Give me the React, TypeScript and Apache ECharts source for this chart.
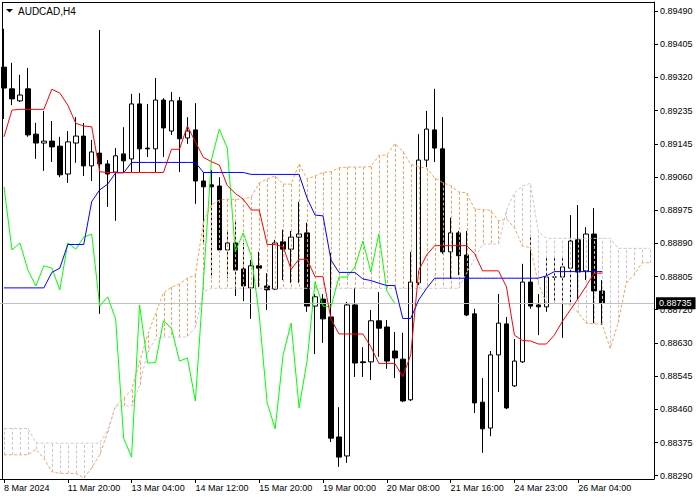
import React, { useEffect, useRef } from "react";
import * as echarts from "echarts";

// ---------- data ----------
const xLabels = [
  "8 Mar 2024", "11 Mar 20:00", "13 Mar 04:00", "14 Mar 12:00", "15 Mar 20:00",
  "19 Mar 00:00", "20 Mar 08:00", "21 Mar 16:00", "24 Mar 23:00", "26 Mar 04:00",
];

const yLabels = [
  "0.88290", "0.88375", "0.88460", "0.88545", "0.88630", "0.88720", "0.88805", "0.88890",
  "0.88975", "0.89060", "0.89145", "0.89235", "0.89320", "0.89405", "0.89490",
];

const opens = [
  0.89345, 0.89289, 0.89258, 0.89289, 0.89172, 0.89149, 0.89154, 0.89141, 0.89069, 0.89149,
  0.89167, 0.89090, 0.89123, 0.89095, 0.89074, 0.89121, 0.89108, 0.89250, 0.89136, 0.89134,
  0.89260, 0.89180, 0.89258, 0.89162, 0.89183, 0.89051, 0.89041, 0.89038, 0.88873, 0.88891,
  0.88824, 0.88775, 0.88832, 0.88780, 0.88772, 0.88894, 0.88875, 0.88906, 0.88917, 0.88728,
  0.88746, 0.88700, 0.88390, 0.88341, 0.88731, 0.88584, 0.88584, 0.88690, 0.88674, 0.88612,
  0.88591, 0.88486, 0.88788, 0.89105, 0.89183, 0.89134, 0.88868, 0.88917, 0.88860, 0.88708,
  0.88480, 0.88413, 0.88602, 0.88682, 0.88522, 0.88584, 0.88790, 0.88731, 0.88726, 0.88803,
  0.88803, 0.88826, 0.88899, 0.88819, 0.88914, 0.88767,
];
const closes = [
  0.89291, 0.89263, 0.89273, 0.89170, 0.89149, 0.89154, 0.89139, 0.89067, 0.89152, 0.89167,
  0.89090, 0.89126, 0.89095, 0.89069, 0.89116, 0.89103, 0.89250, 0.89134, 0.89134, 0.89260,
  0.89188, 0.89258, 0.89160, 0.89180, 0.89051, 0.89036, 0.89036, 0.88873, 0.88891, 0.88821,
  0.88780, 0.88832, 0.88826, 0.88770, 0.88891, 0.88875, 0.88906, 0.88914, 0.88728, 0.88752,
  0.88695, 0.88387, 0.88338, 0.88731, 0.88581, 0.88582, 0.88690, 0.88671, 0.88586, 0.88594,
  0.88483, 0.88790, 0.89105, 0.89185, 0.89136, 0.88868, 0.88917, 0.88858, 0.88705, 0.88478,
  0.88411, 0.88602, 0.88684, 0.88465, 0.88586, 0.88790, 0.88728, 0.88726, 0.88803, 0.88803,
  0.88829, 0.88896, 0.88816, 0.88914, 0.88767, 0.88735,
];
const lows = [
  0.89211, 0.89247, 0.89255, 0.89165, 0.89108, 0.89077, 0.89100, 0.89061, 0.89046, 0.89098,
  0.89064, 0.89051, 0.88708, 0.88984, 0.88948, 0.89074, 0.89074, 0.89074, 0.89113, 0.89074,
  0.89113, 0.89170, 0.89074, 0.89147, 0.88992, 0.88894, 0.88800, 0.88868, 0.88800, 0.88754,
  0.88741, 0.88695, 0.88777, 0.88718, 0.88770, 0.88795, 0.88788, 0.88788, 0.88713, 0.88604,
  0.88633, 0.88377, 0.88313, 0.88323, 0.88545, 0.88545, 0.88537, 0.88597, 0.88566, 0.88542,
  0.88480, 0.88483, 0.88782, 0.89087, 0.89100, 0.88863, 0.88798, 0.88808, 0.88702, 0.88452,
  0.88349, 0.88392, 0.88506, 0.88462, 0.88519, 0.88581, 0.88721, 0.88653, 0.88713, 0.88736,
  0.88646, 0.88736, 0.88744, 0.88795, 0.88684, 0.88679,
];
const highs = [
  0.89444, 0.89356, 0.89325, 0.89343, 0.89201, 0.89232, 0.89206, 0.89165, 0.89180, 0.89216,
  0.89201, 0.89157, 0.89441, 0.89105, 0.89136, 0.89190, 0.89276, 0.89278, 0.89250, 0.89317,
  0.89265, 0.89281, 0.89268, 0.89216, 0.89252, 0.89074, 0.89079, 0.89061, 0.88919, 0.88945,
  0.88891, 0.88847, 0.88868, 0.88813, 0.88899, 0.88925, 0.88922, 0.88997, 0.88943, 0.88759,
  0.88759, 0.88865, 0.88467, 0.88739, 0.88775, 0.88622, 0.88718, 0.88764, 0.88692, 0.88661,
  0.88659, 0.88868, 0.89172, 0.89232, 0.89289, 0.89216, 0.88956, 0.88922, 0.88922, 0.88721,
  0.88542, 0.88612, 0.88759, 0.88700, 0.88643, 0.88837, 0.88912, 0.88759, 0.88857, 0.88857,
  0.88857, 0.88963, 0.88989, 0.88932, 0.88981, 0.88795,
];

const tenkan = [
  0.89165, 0.89234, 0.89236, 0.89236, 0.89236, 0.89236, 0.89288, 0.89278, 0.89247, 0.89200,
  0.89193, 0.89191, 0.89075, 0.89073, 0.89073, 0.89073, 0.89073, 0.89073, 0.89073, 0.89073,
  0.89073, 0.89133, 0.89133, 0.89193, 0.89152, 0.89112, 0.89101, 0.89092, 0.89039, 0.89019,
  0.89004, 0.88976, 0.88976, 0.88887, 0.88887, 0.88881, 0.88823, 0.88849, 0.88849, 0.88804,
  0.88804, 0.88695, 0.88656, 0.88656, 0.88656, 0.88656, 0.88623, 0.88580, 0.88580, 0.88580,
  0.88546, 0.88602, 0.88820, 0.88860, 0.88884, 0.88884, 0.88884, 0.88884, 0.88884, 0.88864,
  0.88819, 0.88819, 0.88819, 0.88778, 0.88653, 0.88639, 0.88638, 0.88630, 0.88630, 0.88653,
  0.88688, 0.88718, 0.88748, 0.88780, 0.88813, 0.88813,
];

const kijun = [
  0.88775, 0.88775, 0.88775, 0.88775, 0.88775, 0.88775, 0.88815, 0.88826, 0.88887, 0.88887,
  0.88887, 0.88998, 0.89028, 0.89043, 0.89072, 0.89072, 0.89099, 0.89099, 0.89099, 0.89099,
  0.89099, 0.89099, 0.89099, 0.89099, 0.89099, 0.89073, 0.89073, 0.89073, 0.89073, 0.89073,
  0.89073, 0.89068, 0.89068, 0.89068, 0.89068, 0.89068, 0.89068, 0.89068, 0.89007, 0.88963,
  0.88961, 0.88847, 0.88815, 0.88815, 0.88815, 0.88798, 0.88794, 0.88787, 0.88781, 0.88781,
  0.88696, 0.88696, 0.88744, 0.88774, 0.88800, 0.88800, 0.88800, 0.88800, 0.88800, 0.88800,
  0.88800, 0.88800, 0.88800, 0.88800, 0.88800, 0.88800, 0.88800, 0.88800, 0.88806, 0.88817,
  0.88817, 0.88817, 0.88817, 0.88817, 0.88817, 0.88817,
];

const senkouA = [
  0.88344, 0.88344, 0.88344, 0.88344, 0.88358, 0.88335, 0.88300, 0.88296, 0.88296, 0.88296,
  0.88284, 0.88310, 0.88344, 0.88403, 0.88470, 0.88491, 0.88511, 0.88584, 0.88653, 0.88708,
  0.88762, 0.88777, 0.88785, 0.88800, 0.88808, 0.88945, 0.88989, 0.89002, 0.89004, 0.89004,
  0.89004, 0.89010, 0.89046, 0.89056, 0.89064, 0.89043, 0.89043, 0.89095, 0.89056, 0.89064,
  0.89073, 0.89075, 0.89085, 0.89087, 0.89087, 0.89087, 0.89088, 0.89117, 0.89118, 0.89147,
  0.89128, 0.89094, 0.89088, 0.89084, 0.89059, 0.89047, 0.89039, 0.89023, 0.89020, 0.88979,
  0.88977, 0.88975, 0.88948, 0.88953, 0.88930, 0.88883, 0.88879, 0.88787, 0.88735, 0.88735,
  0.88735, 0.88731, 0.88711, 0.88684, 0.88682, 0.88682, 0.88619, 0.88684, 0.88787, 0.88808,
  0.88840, 0.88840,
];

const senkouB = [
  0.88412, 0.88412, 0.88412, 0.88412, 0.88375, 0.88374, 0.88374, 0.88374, 0.88374, 0.88374,
  0.88374, 0.88374, 0.88374, 0.88408, 0.88470, 0.88470, 0.88470, 0.88524, 0.88609, 0.88643,
  0.88648, 0.88648, 0.88648, 0.88648, 0.88674, 0.88764, 0.88774, 0.88774, 0.88774, 0.88774,
  0.88774, 0.88774, 0.88774, 0.88774, 0.88774, 0.88774, 0.88774, 0.88774, 0.88774, 0.88774,
  0.88774, 0.88774, 0.88774, 0.88774, 0.88774, 0.88774, 0.88774, 0.88774, 0.88774, 0.88774,
  0.88774, 0.88774, 0.88774, 0.88774, 0.88774, 0.88774, 0.88774, 0.88774, 0.88813, 0.88850,
  0.88888, 0.88888, 0.88888, 0.88976, 0.89020, 0.89038, 0.89045, 0.88919, 0.88903, 0.88903,
  0.88903, 0.88903, 0.88903, 0.88903, 0.88903, 0.88903, 0.88903, 0.88877, 0.88877, 0.88877,
  0.88877, 0.88877,
];

const bidPrice = 0.88735;
const symbolTitle = "AUDCAD,H4";

// Chikou span = closes plotted 26 bars back (Ichimoku definition)
const chikou = closes.slice(26);

// ---------- layout / style ----------
const FONT = "'Liberation Sans', Arial, sans-serif";
const SANDY = "#f4a460";
const THISTLE = "#d8bfd8";
const N_SLOTS = 82;
const categories = Array.from({ length: N_SLOTS }, (_, i) => String(i));
const Y_LOW = 0.8829;
const Y_HIGH = 0.8949;
const Y_STEP = (Y_HIGH - Y_LOW) / (yLabels.length - 1);
const yTickValues = yLabels.map((_, k) => Y_LOW + k * Y_STEP);
const Y_MIN = 0.882815;
const Y_MAX = 0.895132;

const tickEvery = (i: number) => i % 8 === 0 && i / 8 < xLabels.length;

function buildOption(): any {
  const candleData = opens.map((o, i) => [o, closes[i], lows[i], highs[i]]);
  const hatchData = senkouA.map((a, i) => [i, a, senkouB[i]]);
  return {
    animation: false,
    backgroundColor: "#ffffff",
    grid: { left: 0, right: 46, top: 2, bottom: 21, containLabel: false, outerBoundsMode: "none" },
    xAxis: {
      type: "category",
      data: categories,
      boundaryGap: true,
      axisLine: { show: true, lineStyle: { color: "#000", width: 1 } },
      axisTick: {
        show: true,
        alignWithLabel: true,
        interval: (i: number) => tickEvery(i),
        length: 4,
        lineStyle: { color: "#000" },
      },
      axisLabel: {
        show: true,
        interval: (i: number) => tickEvery(i),
        formatter: (v: string) => xLabels[Number(v) / 8] ?? "",
        align: "left",
        margin: 4,
        fontSize: 9,
        fontFamily: FONT,
        color: "#000",
      },
      splitLine: { show: false },
    },
    yAxis: {
      type: "value",
      position: "right",
      min: Y_MIN,
      max: Y_MAX,
      axisLine: { show: true, lineStyle: { color: "#000", width: 1 } },
      axisTick: { show: true, length: 4, customValues: yTickValues, lineStyle: { color: "#000" } },
      axisLabel: {
        customValues: yTickValues,
        formatter: (v: number) => yLabels[Math.round((v - Y_LOW) / Y_STEP)] ?? "",
        margin: 6,
        fontSize: 9,
        fontFamily: FONT,
        color: "#000",
      },
      splitLine: { show: false },
    },
    graphic: [
      { type: "line", shape: { x1: 2, y1: 2.5, x2: 654, y2: 2.5 }, style: { stroke: "#000", lineWidth: 1 }, silent: true },
      { type: "line", shape: { x1: 2.5, y1: 2, x2: 2.5, y2: 479 }, style: { stroke: "#000", lineWidth: 1 }, silent: true },
      { type: "polygon", shape: { points: [[6, 9], [13, 9], [9.5, 12.5]] }, style: { fill: "#000" }, silent: true },
      {
        type: "text",
        x: 18,
        y: 11,
        style: { text: symbolTitle, fontSize: 10, fontFamily: FONT, fill: "#000", verticalAlign: "middle" },
        silent: true,
      },
    ],
    series: [
      {
        type: "candlestick",
        data: candleData,
        barWidth: 5,
        z: 2,
        itemStyle: {
          color: "#ffffff",
          color0: "#000000",
          borderColor: "#000000",
          borderColor0: "#000000",
          borderColorDoji: "#000000",
          borderWidth: 1,
        },
        emphasis: { disabled: true },
      },
      {
        type: "custom",
        z: 3,
        silent: true,
        data: hatchData,
        encode: { x: 0, y: [1, 2] },
        renderItem: (_params: any, api: any) => {
          const i = api.value(0);
          const a = api.value(1);
          const b = api.value(2);
          const p1 = api.coord([i, a]);
          const p2 = api.coord([i, b]);
          const x = Math.round(p1[0]) + 0.5;
          return {
            type: "line",
            shape: { x1: x, y1: p1[1], x2: x, y2: p2[1] },
            style: { stroke: a >= b ? SANDY : THISTLE, lineWidth: 1, lineDash: [3, 2] },
          };
        },
      },
      {
        type: "line",
        data: senkouA,
        symbol: "none",
        z: 4,
        silent: true,
        lineStyle: { color: SANDY, width: 1, type: [3, 2] },
      },
      {
        type: "line",
        data: senkouB,
        symbol: "none",
        z: 4,
        silent: true,
        lineStyle: { color: THISTLE, width: 1, type: [3, 2] },
      },
      {
        type: "line",
        data: chikou,
        symbol: "none",
        z: 5,
        silent: true,
        lineStyle: { color: "#00ff00", width: 1 },
      },
      {
        type: "line",
        data: kijun,
        symbol: "none",
        z: 5,
        silent: true,
        lineStyle: { color: "#0000ff", width: 1 },
      },
      {
        type: "line",
        data: tenkan,
        symbol: "none",
        z: 5,
        silent: true,
        lineStyle: { color: "#ff0000", width: 1 },
        markLine: {
          silent: true,
          precision: 5,
          symbol: ["none", "none"],
          animation: false,
          lineStyle: { color: "#c0c0c0", width: 1, type: "solid" },
          label: {
            show: true,
            position: "end",
            distance: 2,
            formatter: bidPrice.toFixed(5),
            color: "#ffffff",
            backgroundColor: "#000000",
            padding: [2, 4, 1, 3],
            fontSize: 9,
            fontFamily: FONT,
          },
          data: [{ yAxis: bidPrice }],
        },
      },
    ],
  };
}

export default function App() {
  const ref = useRef<HTMLDivElement>(null);
  useEffect(() => {
    document.body.style.margin = "0";
    const chart = echarts.init(ref.current as HTMLDivElement, null, { renderer: "svg" });
    chart.setOption(buildOption());
    return () => chart.dispose();
  }, []);
  return <div ref={ref} style={{ width: 700, height: 500, background: "#fff" }} />;
}
